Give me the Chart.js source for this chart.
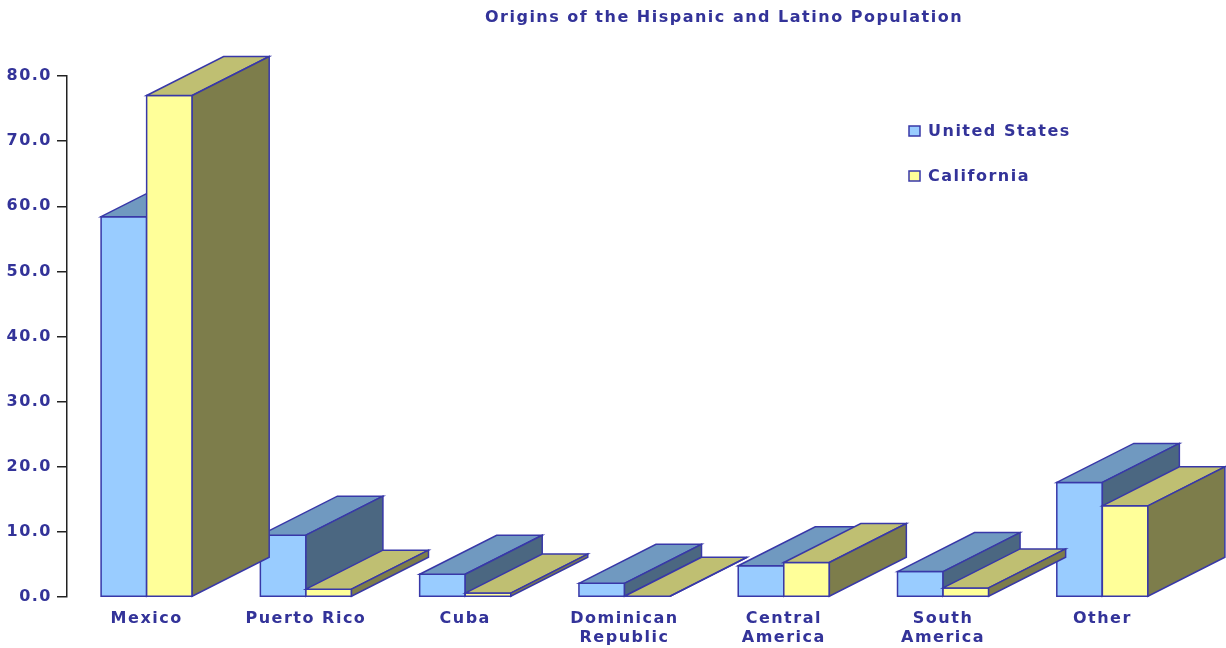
<!DOCTYPE html>
<html lang="en">
<head>
  <meta charset="UTF-8">
  <title>Origins of the Hispanic and Latino Population</title>
  <!-- Chart.js library -->
  <script src="https://cdn.jsdelivr.net/npm/chart.js"></script>
  <style>
    body { margin: 0; background: #ffffff; }
    #wrap { width: 1226px; height: 648px; position: relative; }
  </style>
</head>
<body>
  <div id="wrap">
    <canvas id="originsChart"></canvas>
  </div>

  <script>
    // Chart data
    const chartTitle = 'Origins of the Hispanic and Latino Population';
    const categories = ['Mexico', 'Puerto Rico', 'Cuba', ['Dominican', 'Republic'], ['Central', 'America'], ['South', 'America'], 'Other'];
    const unitedStates = [58.4, 9.5, 3.5, 2.1, 4.8, 3.9, 17.6];
    const california = [77.0, 1.2, 0.6, 0.1, 5.3, 1.4, 14.0];

    // colours: front, top, side
    const usColors = { front: '#99ccff', top: '#7099c0', side: '#4b6781' };
    const caColors = { front: '#ffff99', top: '#bfbf72', side: '#7d7d4b' };
    const edgeColor = '#3838a8';
    const textColor = '#333399';
    const fontFamily = '"DejaVu Sans", Verdana, sans-serif';
    const spacing = '1.5px';

    // depth of the fake 3D boxes in pixels
    const depthX = 77;
    const depthY = -39;

    function setSpacing(chart) {
      chart.ctx.letterSpacing = spacing;
    }

    function drawPoly(ctx, pts, fill) {
      ctx.beginPath();
      ctx.moveTo(pts[0][0], pts[0][1]);
      for (let i = 1; i < pts.length; i++) ctx.lineTo(pts[i][0], pts[i][1]);
      ctx.closePath();
      ctx.fillStyle = fill;
      ctx.fill();
      ctx.stroke();
    }

    // redraws every bar as a box (front, top, side), US first so California sits in front
    const depthPlugin = {
      id: 'depth',
      beforeUpdate: setSpacing,
      beforeDraw: setSpacing,
      afterDatasetsDraw(chart) {
        const ctx = chart.ctx;
        ctx.save();
        ctx.lineWidth = 1.5;
        ctx.strokeStyle = edgeColor;
        ctx.lineJoin = 'miter';
        chart.data.datasets.forEach((ds, di) => {
          const faces = ds.faces;
          chart.getDatasetMeta(di).data.forEach(bar => {
            const p = bar.getProps(['x', 'y', 'base', 'width'], true);
            const l = p.x - p.width / 2;
            const r = p.x + p.width / 2;
            const t = Math.min(p.y, p.base);
            const b = p.base;
            drawPoly(ctx, [[l, t], [r, t], [r, b], [l, b]], faces.front);
            drawPoly(ctx, [[l, t], [l + depthX, t + depthY], [r + depthX, t + depthY], [r, t]], faces.top);
            drawPoly(ctx, [[r, t], [r + depthX, t + depthY], [r + depthX, b + depthY], [r, b]], faces.side);
          });
        });
        ctx.restore();
      },
      afterDraw(chart) {
        const ctx = chart.ctx;
        ctx.save();
        ctx.letterSpacing = spacing;
        ctx.font = 'bold 16px ' + fontFamily;
        ctx.fillStyle = textColor;
        ctx.textBaseline = 'middle';
        // title
        ctx.textAlign = 'center';
        ctx.fillText(chartTitle, 724, 18);
        // legend
        ctx.textAlign = 'left';
        chart.data.datasets.forEach((ds, i) => {
          const y = 131 + i * 45;
          ctx.fillStyle = ds.backgroundColor;
          ctx.fillRect(909, y - 5, 11, 10);
          ctx.strokeStyle = edgeColor;
          ctx.lineWidth = 1.5;
          ctx.strokeRect(909, y - 5, 11, 10);
          ctx.fillStyle = textColor;
          ctx.fillText(ds.label, 928, y + 1);
        });
        ctx.restore();
      }
    };

    const ctx = document.getElementById('originsChart').getContext('2d');
    new Chart(ctx, {
      type: 'bar',
      data: {
        labels: categories,
        datasets: [
          {
            label: 'United States', data: unitedStates,
            backgroundColor: usColors.front, borderColor: edgeColor, borderWidth: 1.5,
            faces: usColors, clip: false
          },
          {
            label: 'California', data: california,
            backgroundColor: caColors.front, borderColor: edgeColor, borderWidth: 1.5,
            faces: caColors, clip: false
          }
        ]
      },
      options: {
        responsive: true,
        maintainAspectRatio: false,
        animation: false,
        layout: { padding: { top: 76, right: 44, left: 0, bottom: 0 } },
        datasets: {
          bar: { categoryPercentage: 0.572, barPercentage: 1.0 }
        },
        plugins: {
          legend: { display: false },
          title: { display: false },
          tooltip: { enabled: false }
        },
        scales: {
          x: {
            grid: { display: false },
            border: { display: false },
            ticks: {
              color: textColor,
              padding: 4,
              maxRotation: 0,
              font: { family: fontFamily, size: 16, weight: 'bold', lineHeight: '19px' }
            },
            afterFit: scale => { scale.height = 51; }
          },
          y: {
            min: 0,
            max: 80,
            ticks: {
              stepSize: 10,
              color: textColor,
              padding: 5,
              font: { family: fontFamily, size: 16, weight: 'bold' },
              callback: v => v.toFixed(1)
            },
            grid: { drawOnChartArea: false, tickLength: 10, color: '#222222', lineWidth: 1.5 },
            border: { display: true, color: '#222222', width: 1.5 },
            afterFit: scale => { scale.width = 67; }
          }
        }
      },
      plugins: [depthPlugin]
    });
  </script>
</body>
</html>
